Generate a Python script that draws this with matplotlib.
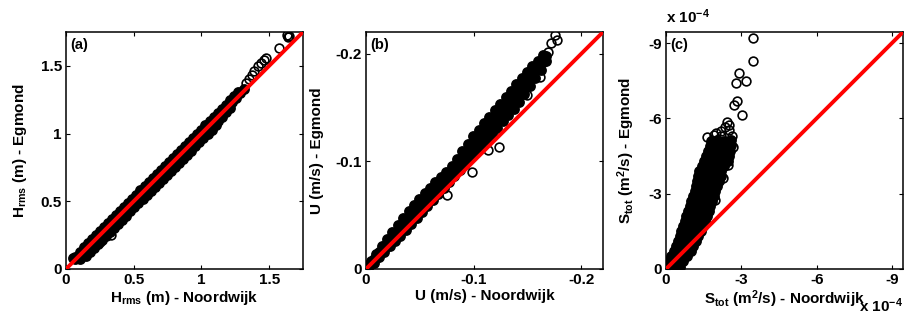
import matplotlib
matplotlib.use("Agg")
import matplotlib.pyplot as plt

plt.rcParams['font.family'] = ['Liberation Sans', 'DejaVu Sans']
plt.rcParams['font.weight'] = 'bold'
plt.rcParams['axes.labelweight'] = 'bold'
plt.rcParams['axes.unicode_minus'] = False
plt.rcParams['mathtext.fontset'] = 'custom'
plt.rcParams['mathtext.rm'] = 'Liberation Sans:bold'
plt.rcParams['mathtext.it'] = 'Liberation Sans:bold'
plt.rcParams['mathtext.bf'] = 'Liberation Sans:bold'

# (a) Hrms (m): Noordwijk vs Egmond
# dense band (rows across the band)
hrms_band_noordwijk = [
    0.07, 0.10, 0.13, 0.16, 0.19, 0.22, 0.25, 0.28, 0.31, 0.34, 0.37, 0.40, 0.43, 0.46, 0.49, 0.52,
    0.55, 0.58, 0.61, 0.64, 0.67, 0.70, 0.73, 0.76, 0.79, 0.82, 0.85, 0.88, 0.91, 0.94, 0.97, 1.00,
    1.03, 1.06, 1.09, 1.12, 1.15, 1.18, 1.21, 1.24, 1.27,
    0.085, 0.115, 0.145, 0.175, 0.205, 0.235, 0.265, 0.295, 0.325, 0.355, 0.385, 0.415, 0.445, 0.475,
    0.505, 0.535, 0.565, 0.595, 0.625, 0.655, 0.685, 0.715, 0.745, 0.775, 0.805, 0.835, 0.865, 0.895,
    0.925, 0.955, 0.985, 1.015, 1.045, 1.075, 1.105, 1.135, 1.165, 1.195, 1.225, 1.255, 1.285, 1.315,
    0.10, 0.13, 0.16, 0.19, 0.22, 0.25, 0.28, 0.31, 0.34, 0.37, 0.40, 0.43, 0.46, 0.49, 0.52, 0.55,
    0.58, 0.61, 0.64, 0.67, 0.70, 0.73, 0.76, 0.79, 0.82, 0.85, 0.88, 0.91, 0.94, 0.97, 1.00, 1.03,
    1.06, 1.09, 1.12, 1.15, 1.18, 1.21,
    0.145, 0.175, 0.205, 0.235, 0.265, 0.295, 0.325, 0.355, 0.385, 0.415, 0.445, 0.475, 0.505, 0.535,
    0.565, 0.595, 0.625, 0.655, 0.685, 0.715, 0.745, 0.775, 0.805, 0.835, 0.865, 0.895, 0.925, 0.955,
    0.985, 1.015, 1.045, 1.075, 1.105,
    0.055, 0.065,
]
hrms_band_egmond = [
    0.09, 0.125, 0.16, 0.19, 0.22, 0.25, 0.28, 0.31, 0.34, 0.37, 0.40, 0.43, 0.46, 0.49, 0.52, 0.55,
    0.58, 0.61, 0.64, 0.67, 0.70, 0.73, 0.76, 0.79, 0.82, 0.85, 0.88, 0.91, 0.94, 0.97, 1.00, 1.03,
    1.06, 1.09, 1.12, 1.15, 1.18, 1.21, 1.245, 1.275, 1.305,
    0.085, 0.115, 0.145, 0.175, 0.205, 0.235, 0.265, 0.295, 0.325, 0.355, 0.385, 0.415, 0.445, 0.475,
    0.505, 0.535, 0.565, 0.595, 0.625, 0.655, 0.685, 0.715, 0.745, 0.775, 0.805, 0.835, 0.865, 0.895,
    0.925, 0.955, 0.985, 1.015, 1.045, 1.075, 1.105, 1.14, 1.17, 1.20, 1.235, 1.265, 1.30, 1.33,
    0.075, 0.105, 0.135, 0.165, 0.195, 0.225, 0.255, 0.285, 0.315, 0.345, 0.375, 0.405, 0.435, 0.465,
    0.495, 0.525, 0.555, 0.585, 0.615, 0.645, 0.675, 0.705, 0.735, 0.765, 0.795, 0.825, 0.855, 0.885,
    0.915, 0.945, 0.975, 1.005, 1.035, 1.065, 1.095, 1.125, 1.16, 1.19,
    0.095, 0.125, 0.155, 0.185, 0.215, 0.245, 0.275, 0.305, 0.335, 0.365, 0.395, 0.425, 0.455, 0.485,
    0.515, 0.545, 0.575, 0.605, 0.635, 0.665, 0.695, 0.725, 0.755, 0.785, 0.815, 0.845, 0.875, 0.905,
    0.935, 0.965, 0.995, 1.025, 1.06,
    0.08, 0.075,
]
# single circles: upper tail and outliers
hrms_sparse_noordwijk = [1.33, 1.35, 1.37, 1.39, 1.42, 1.44, 1.46, 1.48, 1.57, 1.63, 1.64, 1.65, 0.25, 0.33]
hrms_sparse_egmond = [1.37, 1.40, 1.43, 1.46, 1.50, 1.52, 1.54, 1.555, 1.635, 1.73, 1.71, 1.72, 0.20, 0.25]

# (b) U (m/s): Noordwijk vs Egmond
u_band_noordwijk = [
    -0.002, -0.007, -0.012, -0.017, -0.022, -0.027, -0.032, -0.037, -0.042, -0.047, -0.052, -0.057,
    -0.062, -0.067, -0.072, -0.077, -0.082, -0.087, -0.092, -0.097, -0.102, -0.107, -0.112, -0.117,
    -0.122, -0.127, -0.132, -0.137, -0.142, -0.147, -0.152, -0.157, -0.162, -0.167,
    -0.002, -0.007, -0.012, -0.017, -0.022, -0.027, -0.032, -0.037, -0.042, -0.047, -0.052, -0.057,
    -0.062, -0.067, -0.072, -0.077, -0.082, -0.087, -0.092, -0.097, -0.102, -0.107, -0.112, -0.117,
    -0.122, -0.127, -0.132, -0.137, -0.142, -0.147, -0.152, -0.157, -0.162, -0.167,
    -0.0045, -0.0095, -0.0145, -0.0195, -0.0245, -0.0295, -0.0345, -0.0395, -0.0445, -0.0495, -0.0545,
    -0.0595, -0.0645, -0.0695, -0.0745, -0.0795, -0.0845, -0.0895, -0.0945, -0.0995, -0.1045, -0.1095,
    -0.1145, -0.1195, -0.1245, -0.1295, -0.1345, -0.1395, -0.1445, -0.1495, -0.1545, -0.1595, -0.1645,
    -0.0045, -0.0095, -0.0145, -0.0195, -0.0245, -0.0295, -0.0345, -0.0395, -0.0445, -0.0495, -0.0545,
    -0.0595, -0.0645, -0.0695, -0.0745, -0.0795, -0.0845, -0.0895, -0.0945, -0.0995, -0.1045, -0.1095,
    -0.1145, -0.1195, -0.1245, -0.1295, -0.1345, -0.1395, -0.1445, -0.1495, -0.1545, -0.1595, -0.1645,
]
u_band_egmond = [
    -0.001, -0.006, -0.011, -0.016, -0.021, -0.026, -0.031, -0.036, -0.0414, -0.0474, -0.0532, -0.0587,
    -0.0642, -0.0697, -0.0752, -0.0807, -0.0862, -0.0917, -0.0972, -0.1027, -0.1083, -0.1141, -0.1198, -0.1256,
    -0.1313, -0.1371, -0.1428, -0.1486, -0.155, -0.1625, -0.170, -0.1775, -0.185, -0.193,
    -0.0034, -0.0094, -0.0155, -0.0215, -0.0277, -0.0337, -0.0396, -0.0455, -0.0514, -0.0574, -0.0631, -0.0682,
    -0.0734, -0.0786, -0.0837, -0.0889, -0.0946, -0.1011, -0.1076, -0.1141, -0.1204, -0.1263, -0.1322, -0.1381,
    -0.144, -0.150, -0.1559, -0.1618, -0.1678, -0.174, -0.1801, -0.1863, -0.1923, -0.1979,
    -0.0049, -0.0104, -0.016, -0.0216, -0.0271, -0.0326, -0.038, -0.0435, -0.0494, -0.0554, -0.0608,
    -0.0662, -0.0715, -0.0768, -0.0822, -0.0875, -0.0934, -0.0994, -0.1054, -0.1114, -0.1173, -0.1231,
    -0.1289, -0.1347, -0.1406, -0.1464, -0.1523, -0.1581, -0.1649, -0.1717, -0.1785, -0.1854, -0.1919,
    -0.0078, -0.0143, -0.021, -0.0277, -0.0343, -0.0407, -0.047, -0.0534, -0.0594, -0.0654, -0.0705,
    -0.0755, -0.0805, -0.0855, -0.0905, -0.0955, -0.1023, -0.1093, -0.1163, -0.1233, -0.1294, -0.1354,
    -0.1414, -0.1474, -0.1534, -0.1594, -0.1654, -0.1714, -0.177, -0.1825, -0.188, -0.1935, -0.1982,
]
u_sparse_noordwijk = [-0.169, -0.172, -0.1755, -0.177, -0.123, -0.1136, -0.098, -0.075, -0.1616, -0.149]
u_sparse_egmond = [-0.2017, -0.2095, -0.217, -0.213, -0.1136, -0.1105, -0.0903, -0.0687, -0.1786, -0.1616]

# (c) Stot (units of 1e-4 m^2/s): Noordwijk vs Egmond, dense wedge read level by level
stot_band_noordwijk = [
    -0.04, -0.17, -0.30, -0.43, -0.56,
    -0.13, -0.27, -0.41, -0.55, -0.69,
    -0.21, -0.34, -0.47, -0.60, -0.73, -0.84,
    -0.30, -0.44, -0.58, -0.72, -0.86, -0.98,
    -0.38, -0.52, -0.66, -0.80, -0.94, -1.08,
    -0.46, -0.60, -0.74, -0.88, -1.02, -1.18,
    -0.54, -0.69, -0.84, -0.99, -1.14, -1.28,
    -0.61, -0.76, -0.91, -1.06, -1.21, -1.38,
    -0.68, -0.84, -1.00, -1.16, -1.32, -1.47,
    -0.74, -0.90, -1.06, -1.22, -1.38, -1.55,
    -0.81, -0.98, -1.15, -1.32, -1.49, -1.64,
    -0.87, -1.04, -1.21, -1.38, -1.55, -1.70,
    -0.94, -1.11, -1.28, -1.45, -1.62, -1.77,
    -1.01, -1.18, -1.35, -1.52, -1.69, -1.84,
    -1.07, -1.24, -1.41, -1.58, -1.75, -1.90,
    -1.14, -1.31, -1.48, -1.65, -1.82, -1.97,
    -1.19, -1.36, -1.53, -1.70, -1.87, -2.02,
    -1.23, -1.41, -1.59, -1.77, -1.95, -2.12,
    -1.27, -1.45, -1.63, -1.81, -1.99, -2.18,
    -1.33, -1.51, -1.69, -1.87, -2.05, -2.21,
    -1.43, -1.61, -1.79, -1.97, -2.15, -2.32,
    -1.53, -1.72, -1.91, -2.10, -2.29, -2.45,
    -1.60, -1.78, -1.96, -2.14, -2.32, -2.50,
    -1.67, -1.85, -2.03, -2.21, -2.40, -2.54,
    -1.74, -1.95, -2.16, -2.37, -2.57,
    -1.81, -2.05, -2.30, -2.60,
]
stot_band_egmond = [
    -0.10, -0.08, -0.12, -0.10, -0.08,
    -0.30, -0.32, -0.28, -0.30, -0.32,
    -0.50, -0.52, -0.48, -0.50, -0.52, -0.50,
    -0.70, -0.72, -0.68, -0.70, -0.72, -0.70,
    -0.90, -0.92, -0.88, -0.90, -0.92, -0.90,
    -1.10, -1.12, -1.08, -1.10, -1.12, -1.10,
    -1.30, -1.32, -1.28, -1.30, -1.32, -1.30,
    -1.50, -1.52, -1.48, -1.50, -1.52, -1.50,
    -1.70, -1.72, -1.68, -1.70, -1.72, -1.70,
    -1.90, -1.92, -1.88, -1.90, -1.92, -1.90,
    -2.10, -2.12, -2.08, -2.10, -2.12, -2.10,
    -2.30, -2.32, -2.28, -2.30, -2.32, -2.30,
    -2.50, -2.52, -2.48, -2.50, -2.52, -2.50,
    -2.70, -2.72, -2.68, -2.70, -2.72, -2.70,
    -2.90, -2.92, -2.88, -2.90, -2.92, -2.90,
    -3.10, -3.12, -3.08, -3.10, -3.12, -3.10,
    -3.30, -3.32, -3.28, -3.30, -3.32, -3.30,
    -3.50, -3.52, -3.48, -3.50, -3.52, -3.50,
    -3.70, -3.72, -3.68, -3.70, -3.72, -3.70,
    -3.90, -3.92, -3.88, -3.90, -3.92, -3.90,
    -4.10, -4.12, -4.08, -4.10, -4.12, -4.10,
    -4.30, -4.32, -4.28, -4.30, -4.32, -4.30,
    -4.50, -4.52, -4.48, -4.50, -4.52, -4.50,
    -4.70, -4.72, -4.68, -4.70, -4.72, -4.70,
    -4.90, -4.92, -4.88, -4.90, -4.92,
    -5.10, -5.12, -5.08, -5.15,
]
stot_sparse_noordwijk = [
    -1.90, -2.20, -2.62, -2.00, -2.42, -2.52, -2.35, -3.02, -2.71, -2.82, -2.79, -3.19, -2.92,
    -3.48, -3.45, -2.50, -2.20, -2.48, -2.28, -1.95, -1.62, -2.66,
]
stot_sparse_egmond = [
    -5.35, -5.30, -5.30, -5.40, -5.84, -5.74, -5.67, -6.14, -6.53, -6.69, -7.40, -7.49, -7.80,
    -8.29, -9.19, -5.55, -5.50, -4.14, -3.61, -2.75, -5.25, -4.85,
]

panels = [
    dict(band=(hrms_band_noordwijk, hrms_band_egmond), sparse=(hrms_sparse_noordwijk, hrms_sparse_egmond),
         lim=(0, 1.75), ticks=[0, 0.5, 1, 1.5], labels=['0', '0.5', '1', '1.5'], tag='(a)',
         xlabel=r'H$_\mathrm{rms}$ (m) - Noordwijk', ylabel=r'H$_\mathrm{rms}$ (m) - Egmond'),
    dict(band=(u_band_noordwijk, u_band_egmond), sparse=(u_sparse_noordwijk, u_sparse_egmond),
         lim=(0, -0.22), ticks=[0, -0.1, -0.2], labels=['0', '-0.1', '-0.2'], tag='(b)',
         xlabel='U (m/s) - Noordwijk', ylabel='U (m/s) - Egmond'),
    dict(band=(stot_band_noordwijk, stot_band_egmond), sparse=(stot_sparse_noordwijk, stot_sparse_egmond),
         lim=(0, -9.44), ticks=[0, -3, -6, -9], labels=['0', '-3', '-6', '-9'], tag='(c)',
         xlabel=r'S$_\mathrm{tot}$ (m$^\mathrm{2}$/s) - Noordwijk',
         ylabel=r'S$_\mathrm{tot}$ (m$^\mathrm{2}$/s) - Egmond'),
]

fig = plt.figure(figsize=(9.09, 3.23), dpi=100)
lefts = [66, 366, 666]
for left, p in zip(lefts, panels):
    ax = fig.add_axes([left / 909, 54 / 323, 237 / 909, 237 / 323])
    # the original has thousands of overlapping circles there, which merge into solid black
    ax.plot(*p['band'], 'o', mfc='k', mec='k', ms=6.6, mew=1.2, zorder=2)
    ax.plot(*p['sparse'], 'o', mfc='none', mec='k', ms=6.3, mew=1.2, zorder=2)
    ax.axline((0, 0), slope=1, color='#ff0000', lw=2.8, zorder=3)
    ax.set_xlim(p['lim'])
    ax.set_ylim(p['lim'])
    ax.set_xticks(p['ticks'], p['labels'])
    ax.set_yticks(p['ticks'], p['labels'])
    ax.tick_params(direction='in', length=3, width=0.8, top=True, right=True,
                   labelsize=11, pad=3)
    for s in ax.spines.values():
        s.set_linewidth(1.1)
    ax.set_xlabel(p['xlabel'], fontsize=11, labelpad=1)
    ax.set_ylabel(p['ylabel'], fontsize=11, labelpad=8)
    ax.text(0.02, 0.975, p['tag'], transform=ax.transAxes, ha='left', va='top',
            fontsize=10.5, fontweight='bold')
    if p['tag'] == '(c)':
        ax.text(0.0, 1.025, r'x 10$^\mathrm{-4}$', transform=ax.transAxes,
                ha='left', va='bottom', fontsize=11)
        ax.text(1.0, -0.115, r'x 10$^\mathrm{-4}$', transform=ax.transAxes,
                ha='right', va='top', fontsize=11)

fig.savefig('out.png', dpi=100)
